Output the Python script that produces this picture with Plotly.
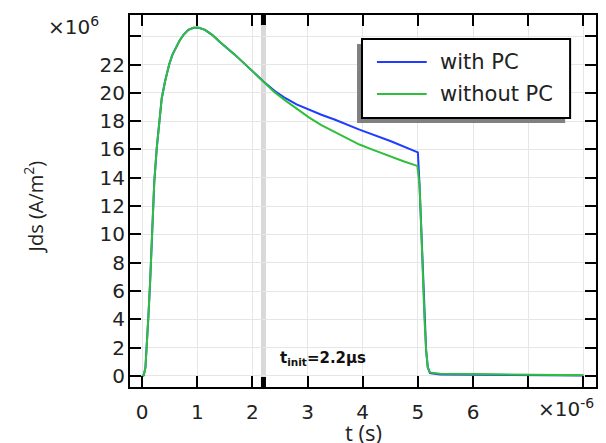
import plotly.graph_objects as go

# ---- data (time in microseconds, current density in 1e6 A/m^2) ----
t_with = [0, 0.03, 0.06, 0.085, 0.115, 0.145, 0.17, 0.19, 0.22, 0.265, 0.295, 0.325, 0.355,
          0.415, 0.49, 0.55, 0.61, 0.68, 0.75, 0.84, 0.93, 1.03, 1.14, 1.27, 1.41, 1.68,
          2.01, 2.2, 2.4, 2.6, 2.8, 3.03, 3.25, 3.5, 3.94, 4.5, 4.96, 5.0, 5.03, 5.06,
          5.09, 5.12, 5.15, 5.18, 5.22, 5.4, 6.0, 7.0, 8.0]
j_with = [0, 0.05, 0.6, 1.96, 4.3, 6.66, 9.0, 11.4, 13.7, 16.1, 17.4, 18.4, 19.6,
          20.8, 22.0, 22.7, 23.2, 23.7, 24.1, 24.45, 24.6, 24.6, 24.45, 24.1, 23.6, 22.7,
          21.5, 20.8, 20.15, 19.62, 19.18, 18.8, 18.45, 18.1, 17.4, 16.6, 15.9, 15.8, 13.5, 10.5,
          7.0, 4.0, 1.8, 0.6, 0.2, 0.1, 0.08, 0.06, 0.04]

t_without = [0, 0.03, 0.06, 0.085, 0.115, 0.145, 0.17, 0.19, 0.22, 0.265, 0.295, 0.325, 0.355,
             0.415, 0.49, 0.55, 0.61, 0.68, 0.75, 0.84, 0.93, 1.03, 1.14, 1.27, 1.41, 1.68,
             2.01, 2.2, 2.4, 2.6, 2.8, 3.03, 3.25, 3.5, 3.7, 3.94, 4.2, 4.5, 4.75, 4.99, 5.03,
             5.06, 5.09, 5.12, 5.15, 5.18, 5.22, 5.4, 6.0, 7.0, 8.0]
j_without = [0, 0.05, 0.6, 1.96, 4.3, 6.66, 9.0, 11.4, 13.7, 16.1, 17.4, 18.4, 19.6,
             20.8, 22.0, 22.7, 23.2, 23.7, 24.1, 24.45, 24.6, 24.6, 24.45, 24.1, 23.6, 22.7,
             21.5, 20.8, 20.05, 19.45, 18.9, 18.25, 17.72, 17.22, 16.8, 16.35, 15.95, 15.5, 15.15,
             14.84, 13.5, 10.5, 7.0, 4.0, 1.8, 0.6, 0.25, 0.15, 0.14, 0.12, 0.05]

series_names = ["with PC", "without PC"]
series_colors = ["#1f3cff", "#2fbf3a"]

x_tickvals = [0, 1, 2, 3, 4, 5, 6, 7, 8]
x_ticktext = ["0", "1", "2", "3", "4", "5", "6", "", ""]
y_tickvals = [0, 2, 4, 6, 8, 10, 12, 14, 16, 18, 20, 22, 24]
y_ticktext = ["0", "2", "4", "6", "8", "10", "12", "14", "16", "18", "20", "22", ""]

t_init = 2.2

# ---- layout geometry (pixels) ----
W, H = 606, 443
ML, MR, MT, MB = 130, 8, 15, 56
PW, PH = W - ML - MR, H - MT - MB


def px(x):
    return (x - ML) / PW


def py(y):
    return (H - MB - y) / PH


fig = go.Figure()
fig.add_trace(go.Scatter(x=t_with, y=j_with, mode="lines", name=series_names[0],
                         line=dict(color=series_colors[0], width=2), showlegend=False))
fig.add_trace(go.Scatter(x=t_without, y=j_without, mode="lines", name=series_names[1],
                         line=dict(color=series_colors[1], width=2), showlegend=False))

tickfont = dict(family="DejaVu Sans", size=20, color="#222")
axis_common = dict(showline=True, linecolor="black", linewidth=2, mirror="ticks",
                   ticks="inside", ticklen=11, tickwidth=2, tickcolor="black",
                   showgrid=True, gridcolor="#e6e6e6", gridwidth=1, zeroline=False,
                   tickfont=tickfont, tickmode="array")

fig.update_xaxes(range=[-0.22, 8.23], tickvals=x_tickvals, ticktext=x_ticktext,
                 ticklabelstandoff=6, **axis_common)
fig.update_yaxes(range=[-0.78, 25.5], tickvals=y_tickvals, ticktext=y_ticktext,
                 ticklabelstandoff=-1, **axis_common)

shapes = [
    # t_init marker band
    dict(type="line", xref="x", yref="paper", x0=t_init, x1=t_init, y0=0, y1=1,
         line=dict(color="#d9d9d9", width=5), layer="below"),
    dict(type="line", xref="x", yref="paper", x0=t_init, x1=t_init, y0=0, y1=10 / PH,
         line=dict(color="black", width=5), layer="above"),
    dict(type="line", xref="x", yref="paper", x0=t_init, x1=t_init, y0=1 - 10 / PH, y1=1,
         line=dict(color="black", width=5), layer="above"),
    # legend shadow and box
    dict(type="rect", xref="paper", yref="paper", x0=px(358), x1=px(567), y0=py(123), y1=py(44),
         fillcolor="#808080", line=dict(width=0), layer="above"),
    dict(type="rect", xref="paper", yref="paper", x0=px(363), x1=px(572), y0=py(118), y1=py(39),
         fillcolor="white", line=dict(color="black", width=2), layer="above"),
    dict(type="line", xref="paper", yref="paper", x0=px(378), x1=px(428), y0=py(62), y1=py(62),
         line=dict(color=series_colors[0], width=2), layer="above"),
    dict(type="line", xref="paper", yref="paper", x0=px(378), x1=px(428), y0=py(94), y1=py(94),
         line=dict(color=series_colors[1], width=2), layer="above"),
]

legfont = dict(family="DejaVu Sans", size=21, color="#222")
annotations = [
    dict(text=series_names[0], xref="paper", yref="paper", x=px(439), y=py(62),
         xanchor="left", yanchor="middle", showarrow=False, font=legfont),
    dict(text=series_names[1], xref="paper", yref="paper", x=px(439), y=py(94),
         xanchor="left", yanchor="middle", showarrow=False, font=legfont),
    dict(text="<b>t<sub>init</sub>=2.2μs</b>", xref="paper", yref="paper", x=px(279), y=py(358),
         xanchor="left", yanchor="middle", showarrow=False,
         font=dict(family="DejaVu Sans", size=15, color="#111")),
    dict(text="×10<sup>6</sup>", xref="paper", yref="paper", x=px(46), y=py(26),
         xanchor="left", yanchor="middle", showarrow=False, font=tickfont),
    dict(text="×10<sup>-6</sup>", xref="paper", yref="paper", x=px(598), y=py(408),
         xanchor="right", yanchor="middle", showarrow=False, font=tickfont),
    dict(text="t (s)", xref="paper", yref="paper", x=px(364), y=py(432),
         xanchor="center", yanchor="middle", showarrow=False,
         font=dict(family="Open Sans", size=22, color="#222")),
    dict(text="Jds (A/m<sup>2</sup>)", xref="paper", yref="paper", x=px(33), y=py(207),
         xanchor="center", yanchor="middle", showarrow=False, textangle=-90,
         font=dict(family="Open Sans", size=20, color="#222")),
]

fig.update_layout(width=W, height=H, margin=dict(l=ML, r=MR, t=MT, b=MB),
                  paper_bgcolor="white", plot_bgcolor="white",
                  shapes=shapes, annotations=annotations, showlegend=False)

fig.write_html("out.html", config={"displayModeBar": False},
               post_script="document.body.style.margin='0';document.body.style.padding='0';"
                           "document.body.style.overflow='hidden';")
